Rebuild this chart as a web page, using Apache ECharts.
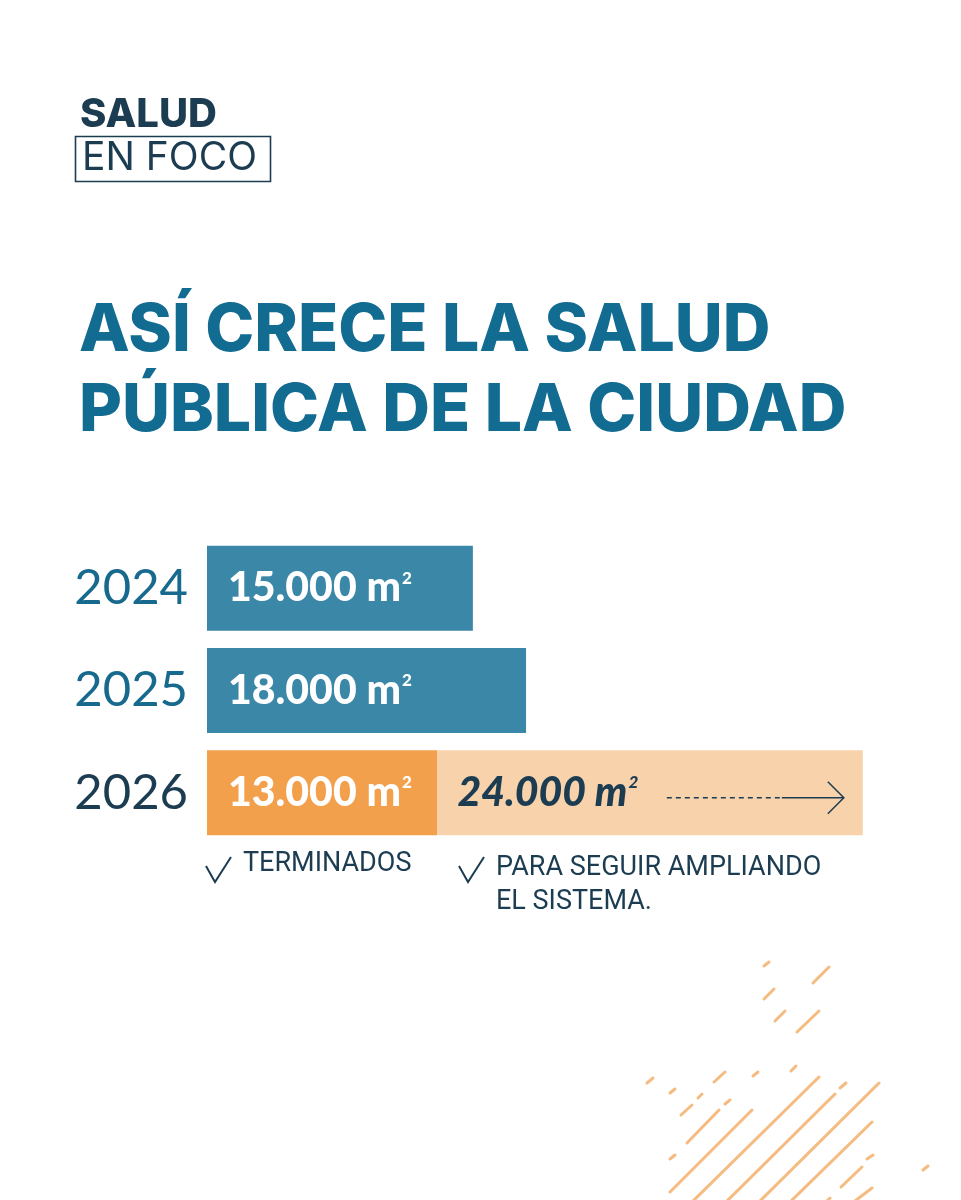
<!DOCTYPE html>
<html>
<head>
<meta charset="utf-8">
<script src="https://cdn.jsdelivr.net/npm/echarts@6/dist/echarts.min.js"></script>
<style>
html, body { margin: 0; background: #fff; }
#chart { width: 961px; height: 1200px; }
</style>
</head>
<body>
<div id="chart"></div>
<script>
// data
const years = ['2024', '2025', '2026'];
const doneM2 = [15000, 18000, 13000];
const plannedM2 = [null, null, 24000];
const doneNote = 'TERMINADOS';
const plannedNote = 'PARA SEGUIR AMPLIANDO\nEL SISTEMA.';

const TEAL = '#3a87a8', ORANGE = '#f3a04c', PEACH = '#f8d2ab';
const NAVY = '#1b3c51', TITLE = '#126b91', YEAR = '#176a8e', STRIPE = '#f5bb80';

function fmt(v) { return String(v).replace(/\B(?=(\d{3})+(?!\d))/g, '.'); }

// decorative stripes, bottom right
const stripes = [
    [764, 966, 769, 962], [813, 983, 829, 967], [764, 999, 774, 989], [775, 1021, 785, 1011],
    [797, 1032, 819, 1011], [647, 1083, 653, 1078], [670, 1093, 675, 1089], [714, 1082, 725, 1072],
    [753, 1076, 758, 1072], [791, 1071, 796, 1066], [698, 1098, 702, 1094], [681, 1115, 692, 1105],
    [725, 1104, 730, 1100], [687, 1143, 719, 1110], [670, 1192, 752, 1110], [690, 1204, 819, 1077],
    [724, 1204, 835, 1094], [840, 1088, 846, 1083], [757, 1204, 879, 1083], [788, 1204, 872, 1122],
    [670, 1159, 675, 1155], [867, 1159, 873, 1155], [841, 1187, 862, 1167], [923, 1170, 928, 1166],
    [851, 1204, 872, 1188], [824, 1204, 830, 1198]
];

const dom = document.getElementById('chart');
const myChart = echarts.init(dom, null, { renderer: 'canvas' });

const graphics = [
    { type: 'text', left: 80, top: 95, style: { text: 'SALUD', font: '800 40px Inter', fill: NAVY } },
    { type: 'rect', shape: { x: 75.5, y: 136.5, width: 195, height: 45 }, style: { fill: 'none', stroke: NAVY, lineWidth: 1.6 } },
    { type: 'text', left: 82, top: 139, style: { text: 'EN FOCO', font: '400 39px Inter', fill: NAVY } },
    { type: 'text', left: 79, top: 298, style: { text: 'ASÍ CRECE LA SALUD', font: '800 66px Inter', fill: TITLE } },
    { type: 'text', left: 79, top: 378, style: { text: 'PÚBLICA DE LA CIUDAD', font: '800 66px Inter', fill: TITLE } },
    { type: 'polyline', shape: { points: [[206, 866], [215, 882], [231, 857]] }, style: { stroke: NAVY, lineWidth: 2, fill: 'none' } },
    { type: 'text', left: 243, top: 851, style: { text: doneNote, font: '400 27px Roboto', fill: NAVY } },
    { type: 'polyline', shape: { points: [[459, 866], [468, 882], [484, 857]] }, style: { stroke: NAVY, lineWidth: 2, fill: 'none' } },
    { type: 'text', left: 496, top: 851, style: { text: plannedNote, font: '400 27px Roboto', fill: NAVY, lineHeight: 34 } }
];
stripes.forEach(s => graphics.push({
    type: 'line', shape: { x1: s[0], y1: s[1], x2: s[2], y2: s[3] },
    style: { stroke: STRIPE, lineWidth: 3, lineCap: 'round' }, z: 0
}));

const option = {
    backgroundColor: '#fff',
    animation: false,
    grid: { left: 207, top: 537, height: 307, width: 709 },
    xAxis: { type: 'value', min: 0, max: 40000, show: false },
    yAxis: {
        type: 'category',
        data: years,
        inverse: true,
        axisLine: { show: false },
        axisTick: { show: false },
        axisLabel: {
            margin: 19,
            formatter: v => (v === '2026' ? '{n|' : '{y|') + v + '}',
            rich: {
                y: { color: YEAR, fontSize: 49, fontFamily: 'Lato' },
                n: { color: NAVY, fontSize: 49, fontFamily: 'Lato' }
            }
        }
    },
    series: [
        {
            name: 'Terminados',
            type: 'bar',
            stack: 'm2',
            barWidth: 85,
            data: doneM2.map((v, i) => ({ value: v, itemStyle: { color: i === 2 ? ORANGE : TEAL } })),
            label: {
                show: true,
                position: 'insideLeft',
                offset: [16, 0],
                formatter: p => '{v|' + fmt(p.value) + ' m}{s|2}',
                rich: {
                    v: { color: '#fff', fontSize: 41, fontWeight: 900, fontFamily: 'Lato' },
                    s: { color: '#fff', fontSize: 17, fontWeight: 900, fontFamily: 'Lato', verticalAlign: 'top', padding: [2, 0, 0, 1] }
                }
            }
        },
        {
            name: 'Ampliación',
            type: 'bar',
            stack: 'm2',
            barWidth: 85,
            itemStyle: { color: PEACH },
            data: plannedM2,
            label: {
                show: true,
                position: 'insideLeft',
                offset: [15, 0],
                formatter: p => '{v|' + fmt(p.value) + ' m}{s|2}',
                rich: {
                    v: { color: NAVY, fontSize: 41, fontWeight: 900, fontStyle: 'italic', fontFamily: 'Lato' },
                    s: { color: NAVY, fontSize: 17, fontWeight: 900, fontStyle: 'italic', fontFamily: 'Lato', verticalAlign: 'top', padding: [2, 0, 0, 1] }
                }
            }
        }
    ],
    graphic: graphics
};
myChart.setOption(option);

// arrow inside the planned bar, placed from the data scale
const endX = myChart.convertToPixel({ gridIndex: 0 }, [doneM2[2] + plannedM2[2], 2]);
const ax = endX[0] - 19, ay = endX[1] + 5;
graphics.push(
    { type: 'line', shape: { x1: ax - 177, y1: ay, x2: ax - 64, y2: ay }, style: { stroke: NAVY, lineWidth: 1.5, lineDash: [5, 4] }, z: 10 },
    { type: 'line', shape: { x1: ax - 62, y1: ay, x2: ax, y2: ay }, style: { stroke: NAVY, lineWidth: 1.5 }, z: 10 },
    { type: 'polyline', shape: { points: [[ax - 16, ay - 16], [ax, ay], [ax - 16, ay + 16]] }, style: { stroke: NAVY, lineWidth: 1.5, fill: 'none' }, z: 10 }
);
myChart.setOption({ graphic: graphics });
window.addEventListener('resize', () => myChart.resize());
</script>
</body>
</html>
